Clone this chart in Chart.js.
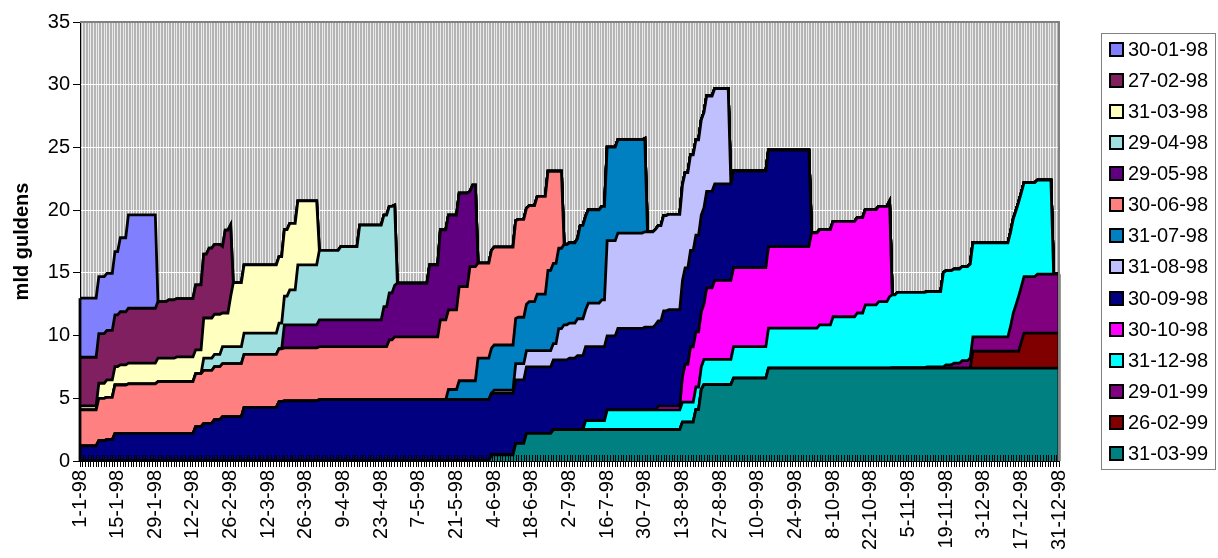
<!DOCTYPE html>
<html>
<head>
<meta charset="utf-8">
<script src="https://cdn.jsdelivr.net/npm/chart.js@4.4.0/dist/chart.umd.min.js"></script>
<style>
    body { margin: 0; background: #fff; }
    #wrap { position: relative; width: 1218px; height: 558px; }
    #legenda {
        position: absolute; left: 1101px; top: 33px; width: 115px; height: 437px;
        border: 1px solid #808080; box-sizing: border-box;
        font-family: 'Liberation Sans', Arial, sans-serif; font-size: 20px; color: #000;
        display: flex; flex-direction: column; justify-content: space-between; padding: 0;
    }
    .item { display: flex; align-items: center; height: 31px; padding-left: 7px; }
    .blokje { width: 11px; height: 11px; border: 2px solid #000; margin-right: 4px; }
</style>
</head>
<body>
<div id="wrap">
    <canvas id="grafiek" width="1218" height="558"></canvas>
    <div id="legenda"></div>
</div>
<script>
// x-as: elke dag van 1-1-98 t/m 31-12-98, label om de 14 dagen
const aantalDagen = 365;
const labelStap = 14;

// reeksen (vervaldatum), van onder naar boven gestapeld
const vervaldata = ['31-03-99', '26-02-99', '29-01-99', '31-12-98', '30-10-98', '30-09-98', '31-08-98',
    '31-07-98', '30-06-98', '29-05-98', '29-04-98', '31-03-98', '27-02-98', '30-01-98'];
const kleuren = ['#008080', '#800000', '#800080', '#00FFFF', '#FF00FF', '#000080', '#C0C0FF',
    '#0080C0', '#FF8080', '#600080', '#A0E0E0', '#FFFFC0', '#802060', '#8080FF'];

// uitstaand bedrag in mld gulden: [dagnummer, nieuwe stand] (dag 0 = 1-1-98)
const s310399 = [[153, 0.5], [162, 1.4], [166, 2.2], [176, 2.5], [224, 3.1], [229, 4.1], [231, 5.7], [232, 6.1], [243, 6.6], [256, 7.4]];
const s260299 = [[332, 1.35], [350, 2.1], [351, 2.8]];
const s290199 = [[302, 0.05], [315, 0.1], [322, 0.27], [325, 0.4], [328, 0.6], [331, 0.8], [332, 1.15], [346, 2.0], [347, 3.05], [348, 3.7], [349, 4.4], [351, 4.5], [356, 4.7]];
const s311298 = [[188, 0.72], [196, 1.57], [224, 1.6], [229, 1.8], [232, 2.0], [243, 2.52], [256, 3.19], [275, 3.45], [280, 4.1], [289, 4.4], [292, 5.05], [297, 5.3], [301, 5.7], [302, 5.8], [304, 6.0], [321, 7.5], [362, 0]];
const s301098 = [[215, 0.3], [224, 2.0], [225, 3.0], [227, 4.4], [233, 5.7], [236, 6.3], [256, 6.5], [272, 7.6], [302, 0]];
const s300998 = [[0, 1.2], [7, 1.62], [10, 1.7], [13, 2.2], [43, 2.74], [46, 3.0], [50, 3.3], [53, 3.54], [61, 4.28], [74, 4.73], [76, 4.8], [89, 4.9], [162, 5.06], [166, 5.3], [176, 5.56], [182, 5.7], [185, 5.9], [200, 6.5], [210, 6.6], [214, 6.8], [217, 7.6], [219, 7.7], [272, 0]];
const s310898 = [[154, 0.25], [162, 1.3], [178, 2.5], [180, 2.8], [185, 2.94], [189, 3.46], [194, 3.73], [196, 7.6], [242, 0]];
const s310798 = [[137, 0.8], [141, 1.5], [148, 3.3], [153, 3.6], [163, 3.7], [167, 3.9], [170, 4.5], [174, 6.4], [186, 7.45], [211, 0]];
const s300698 = [[0, 2.87], [7, 3.38], [13, 3.86], [18, 3.95], [29, 4.13], [43, 4.22], [115, 4.75], [117, 5.0], [134, 6.35], [141, 7.5], [145, 9.1], [148, 7.57], [153, 7.8], [166, 7.66], [170, 7.8], [174, 7.9], [176, 7.34], [178, 6.14], [180, 0]];
const s290598 = [[76, 1.83], [89, 2.13], [113, 3.18], [115, 3.75], [117, 4.1], [118, 4.27], [130, 5.74], [134, 7.18], [137, 7.55], [141, 7.46], [145, 6.0], [146, 6.5], [148, 0]];
const s290498 = [[46, 0.98], [53, 1.36], [61, 1.69], [74, 2.05], [76, 2.3], [78, 2.79], [81, 4.79], [89, 5.55], [97, 5.85], [104, 7.55], [113, 7.3], [115, 6.9], [117, 6.4], [118, 0]];
const s310398 = [[0, 0.32], [7, 1.2], [10, 1.38], [13, 1.47], [15, 1.6], [18, 1.65], [29, 1.87], [36, 1.97], [43, 1.9], [46, 3.2], [53, 2.68], [56, 3.98], [57, 5.1], [61, 5.45], [74, 5.3], [81, 5.1], [89, 0]];
const s270298 = [[0, 3.88], [7, 3.95], [13, 4.12], [15, 4.24], [18, 4.38], [29, 4.5], [33, 4.65], [43, 5.18], [46, 5.1], [48, 5.57], [53, 5.3], [54, 6.6], [56, 5.73], [57, 0]];
const s300198 = [[0, 4.71], [7, 4.55], [13, 5.05], [15, 5.9], [18, 7.45], [29, 0]];

const reeksen = [s310399, s260299, s290199, s311298, s301098, s300998, s310898,
    s310798, s300698, s290598, s290498, s310398, s270298, s300198];

// datumlabels d-m-98
const dagLabels = [];
for (let i = 0; i < aantalDagen; i++) {
    const d = new Date(1998, 0, 1 + i);
    dagLabels.push(d.getDate() + '-' + (d.getMonth() + 1) + '-98');
}

// stand blijft gelijk tot de volgende wijziging
function uitvouwen(punten) {
    const reeks = [];
    let waarde = 0, k = 0;
    for (let d = 0; d < aantalDagen; d++) {
        while (k < punten.length && punten[k][0] <= d) { waarde = punten[k][1]; k++; }
        reeks.push(waarde);
    }
    return reeks;
}

const datasets = reeksen.map((punten, i) => ({
    label: vervaldata[i],
    data: uitvouwen(punten),
    backgroundColor: kleuren[i],
    borderColor: '#000',
    borderWidth: 2.8,
    pointRadius: 0,
    tension: 0,
    fill: i === 0 ? 'origin' : '-1'
}));

// grijze achtergrond, randen en tickstreepjes binnen het plotvlak
const plotExtra = {
    id: 'plotExtra',
    beforeDraw(chart) {
        const { ctx, chartArea: a } = chart;
        ctx.save();
        ctx.fillStyle = '#b4b4b4';
        ctx.fillRect(a.left, a.top, a.right - a.left, a.bottom - a.top);
        ctx.restore();
    },
    afterDatasetsDraw(chart) {
        const { ctx, chartArea: a, scales } = chart;
        ctx.save();
        ctx.strokeStyle = '#000';
        ctx.lineWidth = 1;
        ctx.beginPath();
        for (let i = 0; i < aantalDagen; i++) {
            const x = Math.round(scales.x.getPixelForValue(i)) + 0.5;
            ctx.moveTo(x, a.bottom);
            ctx.lineTo(x, a.bottom - 6);
        }
        ctx.stroke();
        // zijkanten van het gestapelde vlak
        ctx.lineWidth = 2.8;
        [0, aantalDagen - 1].forEach(i => {
            const totaal = chart.data.datasets.reduce((s, ds) => s + ds.data[i], 0);
            const x = scales.x.getPixelForValue(i);
            ctx.beginPath();
            ctx.moveTo(x, a.bottom);
            ctx.lineTo(x, scales.y.getPixelForValue(totaal));
            ctx.stroke();
        });
        ctx.restore();
    },
    afterDraw(chart) {
        const { ctx, chartArea: a } = chart;
        ctx.save();
        ctx.strokeStyle = '#808080';
        ctx.lineWidth = 2;
        ctx.beginPath();
        ctx.moveTo(a.left, a.top);
        ctx.lineTo(a.right, a.top);
        ctx.lineTo(a.right, a.bottom);
        ctx.stroke();
        ctx.restore();
    }
};

Chart.defaults.font.family = "'Liberation Sans', Arial, sans-serif";
Chart.defaults.font.size = 20;
Chart.defaults.color = '#000';

new Chart(document.getElementById('grafiek'), {
    type: 'line',
    data: { labels: dagLabels, datasets: datasets },
    options: {
        responsive: false,
        animation: false,
        layout: { padding: { top: 22, right: 159, left: 0, bottom: 0 } },
        plugins: { legend: { display: false }, tooltip: { enabled: false } },
        scales: {
            x: {
                offset: false,
                afterFit: (scale) => { scale.height = 97; },
                grid: { color: 'rgba(255,255,255,0.75)', lineWidth: 1, tickColor: '#000', tickLength: 6 },
                border: { color: '#000', width: 2 },
                ticks: {
                    autoSkip: false, minRotation: 90, maxRotation: 90, padding: 3,
                    callback: function (waarde, index) {
                        return index % labelStap === 0 ? this.getLabelForValue(waarde) : '';
                    }
                }
            },
            y: {
                stacked: true,
                min: 0, max: 35,
                afterFit: (scale) => { scale.width = 80; },
                grid: { color: '#ffffff', lineWidth: 1, tickColor: '#000', tickLength: 7 },
                border: { color: '#000', width: 1 },
                ticks: { stepSize: 5, padding: 3 },
                title: { display: true, text: 'mld guldens', font: { weight: 'bold', size: 20 }, padding: { top: 10, bottom: 0 } }
            }
        }
    },
    plugins: [plotExtra]
});

// legenda: bovenste reeks eerst
const legenda = document.getElementById('legenda');
for (let i = vervaldata.length - 1; i >= 0; i--) {
    const item = document.createElement('div');
    item.className = 'item';
    const blokje = document.createElement('span');
    blokje.className = 'blokje';
    blokje.style.background = kleuren[i];
    const tekst = document.createElement('span');
    tekst.textContent = vervaldata[i];
    item.appendChild(blokje);
    item.appendChild(tekst);
    legenda.appendChild(item);
}
</script>
</body>
</html>
